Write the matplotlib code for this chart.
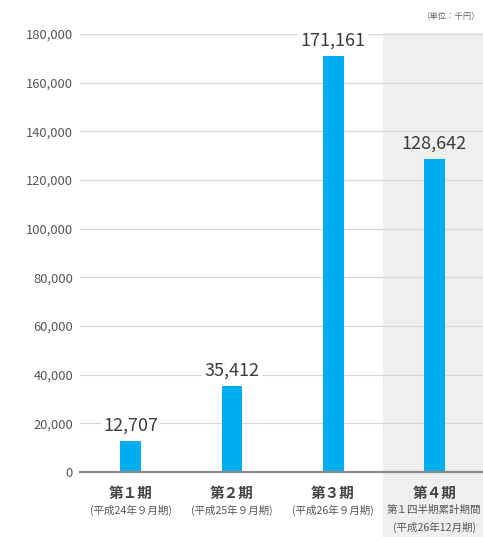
import numpy as np
import matplotlib
matplotlib.use('Agg')
from matplotlib import pyplot as plt
from matplotlib.patches import Rectangle
from matplotlib.ticker import FuncFormatter
import matplotlib.transforms as mtransforms

plt.rcParams['font.family'] = ['Noto Sans CJK JP', 'DejaVu Sans']

periods = ['第１期', '第２期', '第３期', '第４期']
sublabels = [['(平成24年９月期)'],
             ['(平成25年９月期)'],
             ['(平成26年９月期)'],
             ['第１四半期累計期間', '(平成26年12月期)']]
values = [12707, 35412, 171161, 128642]
yticks = np.arange(0, 180001, 20000)

W, H = 483, 537
SHADE = '#efefef'
fig = plt.figure(figsize=(W / 100, H / 100), dpi=100)
fig.patch.set_facecolor('white')

# shaded column behind the last period
fig.patches.append(Rectangle((383 / W, 0), 1 - 383 / W, 1 - 33 / H,
                             transform=fig.transFigure, facecolor=SHADE,
                             edgecolor='none', zorder=-1))

ax = fig.add_axes([80 / W, 1 - 472 / H, 1 - 80 / W, (472 - 34) / H])
ax.set_facecolor('none')

x = np.arange(len(values))
ax.bar(x, values, width=0.205, color='#00aeef', zorder=3)

for xi, v in zip(x, values):
    bg = SHADE if xi == len(values) - 1 else 'white'
    ax.text(xi, v + 2500, f'{v:,}', ha='center', va='bottom', fontsize=13,
            color='#3c3c3c', zorder=4,
            bbox=dict(facecolor=bg, edgecolor='none', pad=1.5))

ax.set_xlim(-0.5, 3.48)
ax.set_ylim(0, 180000)
ax.set_yticks(yticks)
ax.yaxis.set_major_formatter(FuncFormatter(lambda v, p: f'{int(v):,}'))
ax.tick_params(axis='y', length=0, pad=5, labelsize=9.3, labelcolor='#555555')
ax.set_xticks([])
ax.yaxis.grid(True, color='#d8d8d8', linewidth=0.9, zorder=0)
ax.set_axisbelow(True)

for s in ['top', 'right', 'left']:
    ax.spines[s].set_visible(False)
ax.spines['bottom'].set_color('#8a8a8a')
ax.spines['bottom'].set_linewidth(1.6)
ax.spines['bottom'].set_zorder(5)

trans = mtransforms.blended_transform_factory(ax.transData, fig.transFigure)
for xi, name, subs in zip(x, periods, sublabels):
    ax.text(xi, 1 - 493 / H, name, transform=trans, ha='center', va='center',
            fontsize=10.5, fontweight='bold', color='#444444', clip_on=False)
    for k, s in enumerate(subs):
        ax.text(xi, 1 - (510 + 17 * k) / H, s, transform=trans, ha='center',
                va='center', fontsize=7.6, color='#555555', clip_on=False)

fig.text(480 / W, 1 - 16 / H, '（単位：千円）', ha='right', va='center',
         fontsize=6, color='#666666')

fig.savefig('out.png', dpi=100)
